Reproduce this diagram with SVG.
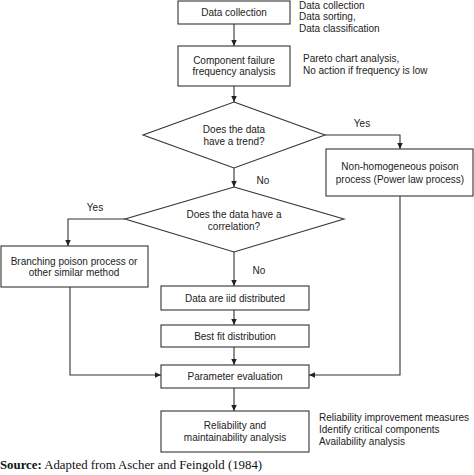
<svg xmlns="http://www.w3.org/2000/svg" width="474" height="475" viewBox="0 0 474 475">
<style>
.box{fill:#fff;stroke:#333;stroke-width:1.1}
.t{font-family:"Liberation Sans",Arial,sans-serif;font-size:10px;fill:#222}
.c{text-anchor:middle}
.ln{fill:none;stroke:#333;stroke-width:1.1}
.src{font-family:"Liberation Serif","Times New Roman",serif;font-size:12.8px;fill:#111}
</style>
<defs>
<marker id="ah" markerUnits="userSpaceOnUse" markerWidth="7" markerHeight="6" refX="6" refY="2.75" orient="auto">
<path d="M0,0 L6,2.75 L0,5.5 z" fill="#222"/>
</marker>
</defs>
<rect width="474" height="475" fill="#fff"/>
<g id="connectors">
<line class="ln" x1="234" y1="24" x2="234" y2="46" marker-end="url(#ah)"/>
<line class="ln" x1="234" y1="86" x2="234" y2="102" marker-end="url(#ah)"/>
<polyline class="ln" points="325,135 400,135 400,149" marker-end="url(#ah)"/>
<line class="ln" x1="234" y1="168" x2="234" y2="187" marker-end="url(#ah)"/>
<polyline class="ln" points="125,219 68,219 68,246" marker-end="url(#ah)"/>
<line class="ln" x1="234" y1="252" x2="234" y2="286" marker-end="url(#ah)"/>
<line class="ln" x1="234" y1="310" x2="234" y2="325" marker-end="url(#ah)"/>
<line class="ln" x1="234" y1="347" x2="234" y2="365" marker-end="url(#ah)"/>
<polyline class="ln" points="70,287 70,375 161,375" marker-end="url(#ah)"/>
<polyline class="ln" points="400,196 400,375 309,375" marker-end="url(#ah)"/>
<line class="ln" x1="234" y1="388" x2="234" y2="411" marker-end="url(#ah)"/>
<text class="t c" x="362" y="126.5">Yes</text>
<text class="t c" x="263" y="183.5">No</text>
<text class="t c" x="95" y="210.5">Yes</text>
<text class="t c" x="259" y="274">No</text>
</g>
<g id="data-collection">
<rect class="box" x="178" y="1" width="112" height="23"/>
<text class="t c" x="234" y="16">Data collection</text>
<text class="t" x="299" y="8.5">Data collection</text>
<text class="t" x="299" y="20">Data sorting,</text>
<text class="t" x="299" y="31.5">Data classification</text>
</g>
<g id="component-failure">
<rect class="box" x="178" y="46" width="112" height="40"/>
<text class="t c" x="234" y="63.5">Component failure</text>
<text class="t c" x="234" y="75">frequency analysis</text>
<text class="t" x="303" y="62">Pareto chart analysis,</text>
<text class="t" x="303" y="73.5">No action if frequency is low</text>
</g>
<g id="trend">
<polygon class="box" points="234,102 325,135 234,168 143,135"/>
<text class="t c" x="234" y="132.5">Does the data</text>
<text class="t c" x="234" y="145">have a trend?</text>
</g>
<g id="nhpp">
<rect class="box" x="326" y="149" width="147" height="47"/>
<text class="t c" x="400" y="170">Non-homogeneous poison</text>
<text class="t c" x="400" y="183">process (Power law process)</text>
</g>
<g id="correlation">
<polygon class="box" points="234,187 344,219 234,252 125,219"/>
<text class="t c" x="234" y="217.5">Does the data have a</text>
<text class="t c" x="234" y="229.5">correlation?</text>
</g>
<g id="branching">
<rect class="box" x="1" y="246" width="147" height="41"/>
<text class="t c" x="74" y="264.5">Branching poison process or</text>
<text class="t c" x="74" y="276">other similar method</text>
</g>
<g id="iid">
<rect class="box" x="161" y="286" width="148" height="24"/>
<text class="t c" x="235" y="302">Data are iid distributed</text>
</g>
<g id="best-fit">
<rect class="box" x="161" y="325" width="148" height="22"/>
<text class="t c" x="235" y="339.5">Best fit distribution</text>
</g>
<g id="parameter">
<rect class="box" x="161" y="365" width="148" height="23"/>
<text class="t c" x="235" y="380">Parameter evaluation</text>
</g>
<g id="reliability">
<rect class="box" x="161" y="411" width="148" height="41"/>
<text class="t c" x="235" y="429">Reliability and</text>
<text class="t c" x="235" y="441">maintainability analysis</text>
<text class="t" x="319" y="421">Reliability improvement measures</text>
<text class="t" x="319" y="432.5">Identify critical components</text>
<text class="t" x="319" y="444.5">Availability analysis</text>
</g>
<text class="src" x="0" y="469"><tspan font-weight="bold">Source:</tspan> Adapted from Ascher and Feingold (1984)</text>
</svg>
